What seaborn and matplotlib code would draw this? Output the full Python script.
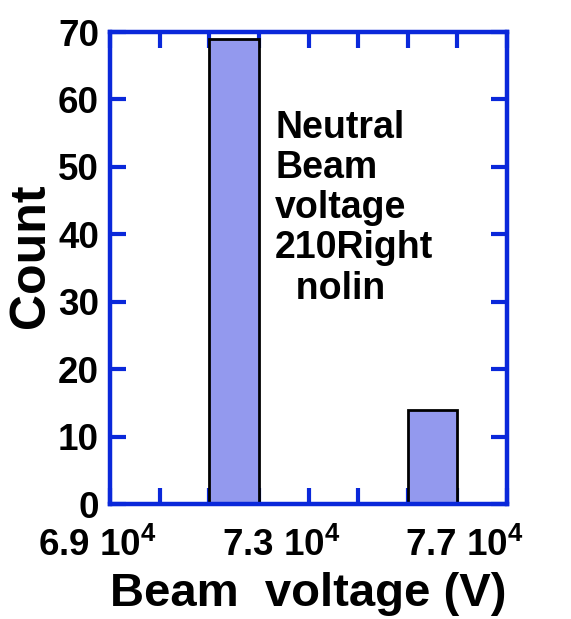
import numpy as np
import pandas as pd
import matplotlib
matplotlib.use("Agg")
import matplotlib.pyplot as plt
import matplotlib.transforms as mtransforms
import seaborn as sns

# Histogram of neutral beam voltage (bin centres, V) and counts per bin
bin_centers = [71500, 75500]
counts = [69, 14]
bin_width = 1000
x_ticks = [69000, 70000, 71000, 72000, 73000, 74000, 75000, 76000, 77000]
x_labeled = [69000, 73000, 77000]
y_ticks = [0, 10, 20, 30, 40, 50, 60, 70]
annotation = "Neutral\nBeam\nvoltage\n210Right\n  nolin"

sns.set_theme(style="white")
plt.rcParams["font.family"] = ["Liberation Sans", "DejaVu Sans"]
plt.rcParams["font.weight"] = "bold"
plt.rcParams["text.color"] = "black"
plt.rcParams["axes.labelcolor"] = "black"
plt.rcParams["xtick.labelcolor"] = "black"
plt.rcParams["ytick.labelcolor"] = "black"
plt.rcParams["mathtext.fontset"] = "custom"
plt.rcParams["mathtext.rm"] = "Liberation Sans:bold"
plt.rcParams["mathtext.it"] = "Liberation Sans:bold"
plt.rcParams["mathtext.bf"] = "Liberation Sans:bold"

blue = "#0A28DA"
bar_color = "#9399EE"

df = pd.DataFrame({"voltage": bin_centers, "count": counts})

fig = plt.figure(figsize=(5.71, 6.19), dpi=100)
ax = fig.add_axes([110 / 571, 1 - 504 / 619, 397 / 571, 472 / 619])

sns.histplot(data=df, x="voltage", weights="count", binwidth=bin_width,
             binrange=(71000, 76000), color=bar_color, alpha=1.0,
             edgecolor="black", linewidth=2.0, ax=ax)

ax.set_xlim(69000, 77000)
ax.set_ylim(0, 70)

for s in ax.spines.values():
    s.set_color(blue)
    s.set_linewidth(3.2)
    s.set_visible(True)

ax.set_xticks(x_ticks)
ax.set_xticklabels([f"{v / 1e4:.1f} $10^{{4}}$" if v in x_labeled else "" for v in x_ticks])
ax.set_yticks(y_ticks)
ax.tick_params(axis="both", which="both", direction="in", length=11.5, width=3,
               color=blue, labelsize=26.5, labelcolor="black", top=True, right=True,
               bottom=True, left=True)
ax.tick_params(axis="x", pad=17)
ax.tick_params(axis="y", pad=8)

# nudge the x tick labels horizontally
nudges = [-13, -27, -43]
lab_iter = iter(nudges)
for v, lab in zip(x_ticks, ax.get_xticklabels()):
    if v in x_labeled:
        dx = next(lab_iter)
        lab.set_transform(lab.get_transform() +
                          mtransforms.ScaledTranslation(dx / 100, 0, fig.dpi_scale_trans))

ax.set_xlabel("Beam  voltage (V)", fontsize=34, fontweight="bold", labelpad=6)
ax.set_ylabel("Count", fontsize=36, fontweight="bold", labelpad=4)
ax.yaxis.set_label_coords(-0.14, 0.527)

ax.text(0.416, 0.835, annotation, transform=ax.transAxes, ha="left", va="top",
        fontsize=27, fontweight="bold", linespacing=1.15, color="black")

fig.savefig("out.png", dpi=100)
